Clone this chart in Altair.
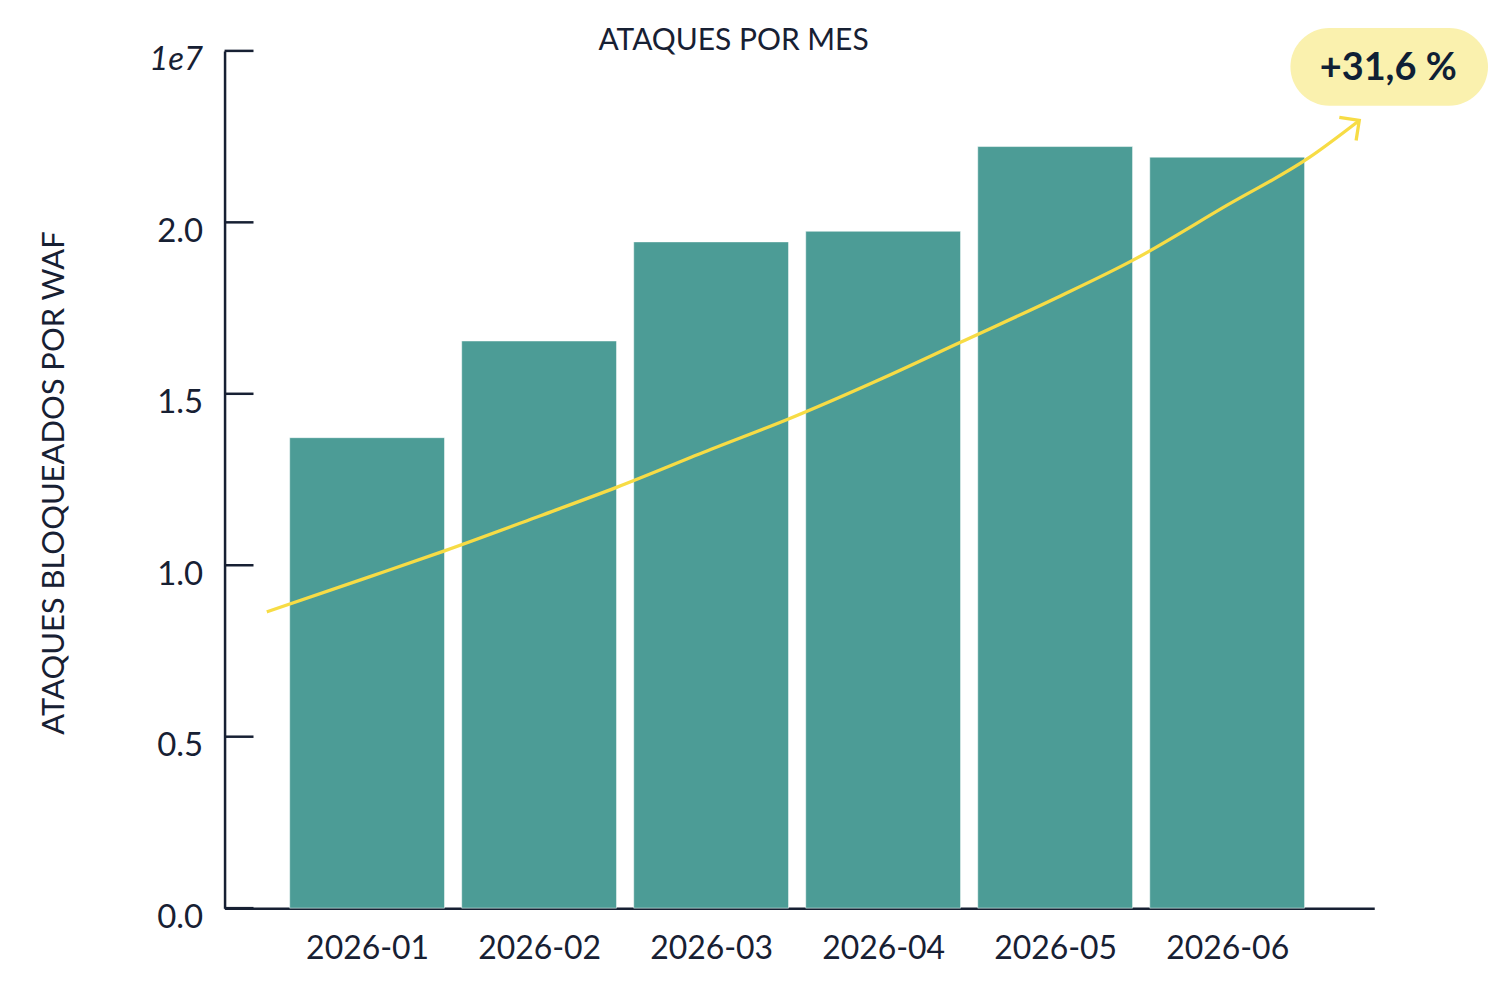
import altair as alt
import pandas as pd

# ---- data ----
months = ["2026-01", "2026-02", "2026-03", "2026-04", "2026-05", "2026-06"]
attacks = [13720000, 16540000, 19430000, 19740000, 22210000, 21900000]

trend_x = [-0.583, 0.0, 0.45, 1.0, 1.45, 2.0, 2.45, 3.0, 3.44, 4.0, 4.45, 5.0, 5.48, 5.768]
trend_y = [8640000, 9640000, 10420000, 11430000, 12270000, 13380000, 14265000,
           15460000, 16480000, 17780000, 18890000, 20500000, 21900000, 22970000]

y_ticks = [0, 5000000, 10000000, 15000000, 20000000, 25000000]
badge_text = ["+31,6 %"]
title_text = ["ATAQUES POR MES"]
Y_TITLE = "ATAQUES BLOQUEADOS POR WAF"

# ---- styling ----
FONT = "Lato"
DARK = "#172033"
TEAL = "#4C9C96"
YELLOW = "#F7DC45"
BADGE = "#FAF1AE"
W, H = 1152, 859

bars_df = pd.DataFrame({"idx": list(range(len(months))), "month": months, "value": attacks})
trend_df = pd.DataFrame({"x": trend_x, "y": trend_y})
tips_df = trend_df.tail(1)
ticks_df = pd.DataFrame({"v": y_ticks})
badge_df = pd.DataFrame({"t": badge_text})
title_df = pd.DataFrame({"t": title_text})

xscale = alt.Scale(domain=[-0.8286, 5.855], nice=False, zero=False)
yscale = alt.Scale(domain=[0, 25000000], nice=False)

label_js = "[" + ",".join("'%s'" % m for m in months) + "]"

x_axis = alt.Axis(
    values=list(range(len(months))),
    labelExpr=label_js + "[datum.value]",
    title=None, grid=False, ticks=False,
    domainColor=DARK, domainWidth=2.5,
    labelFont=FONT, labelFontSize=32, labelColor=DARK, labelPadding=25,
)
y_axis = alt.Axis(
    values=y_ticks,
    labelExpr="datum.value == 25000000 ? '1e7' : format(datum.value / 1e7, '.1f')",
    labelFontStyle={"condition": {"test": "datum.value == 25000000", "value": "italic"}, "value": "normal"},
    title=Y_TITLE, titleFont=FONT, titleFontSize=31, titleFontWeight="normal", titleColor=DARK,
    titleX=-170, titleY=H / 2 + 3, titleAngle=270, titleAlign="center", titleBaseline="middle",
    grid=False, ticks=False,
    domainColor=DARK, domainWidth=2.5,
    labelFont=FONT, labelFontSize=33, labelColor=DARK, labelPadding=22, labelOffset=9,
)

bars = alt.Chart(bars_df).transform_calculate(
    lo="datum.idx - 0.45", hi="datum.idx + 0.45", zero="0"
).mark_rect(color=TEAL, stroke="white", strokeWidth=1, strokeOpacity=0.5).encode(
    x=alt.X("lo:Q", scale=xscale, axis=x_axis),
    x2="hi:Q",
    y=alt.Y("value:Q", scale=yscale, axis=y_axis),
    y2="zero:Q",
)

tick_rules = alt.Chart(ticks_df).mark_rule(color=DARK, strokeWidth=2.5).encode(
    y=alt.Y("v:Q", scale=yscale),
    x=alt.value(0), x2=alt.value(29),
)

trend = alt.Chart(trend_df).mark_line(color=YELLOW, strokeWidth=3.3, interpolate="monotone").encode(
    x=alt.X("x:Q", scale=xscale),
    y=alt.Y("y:Q", scale=yscale),
    order="x:Q",
)

arrow = alt.Chart(tips_df).mark_point(
    shape="M-1,-1L0,0L-1,1", filled=False, stroke=YELLOW, strokeWidth=3.3,
    size=820, angle=324, opacity=1,
).encode(
    x=alt.X("x:Q", scale=xscale),
    y=alt.Y("y:Q", scale=yscale),
)

badge_box = alt.Chart(badge_df).mark_rect(color=BADGE, cornerRadius=39).encode(
    x=alt.value(1068), x2=alt.value(1266), y=alt.value(-23), y2=alt.value(55),
)
badge_label = alt.Chart(badge_df).mark_text(
    font=FONT, fontSize=38, fontWeight="bold", color="#0F1F35",
    align="center", baseline="middle",
).encode(
    text="t:N", x=alt.value(1166), y=alt.value(18),
)

title_mark = alt.Chart(title_df).mark_text(
    font=FONT, fontSize=30, color=DARK, align="center", baseline="alphabetic",
).encode(
    text="t:N", x=alt.value(510), y=alt.value(-1),
)

chart = alt.layer(bars, tick_rules, trend, arrow, badge_box, badge_label, title_mark).properties(
    width=W, height=H,
    background="white",
    autosize=alt.AutoSizeParams(type="none"),
    padding={"left": 217, "top": 42, "right": 120, "bottom": 60},
).configure_view(stroke=None)

chart.save("out.html", embed_options={"renderer": "svg", "actions": False})
